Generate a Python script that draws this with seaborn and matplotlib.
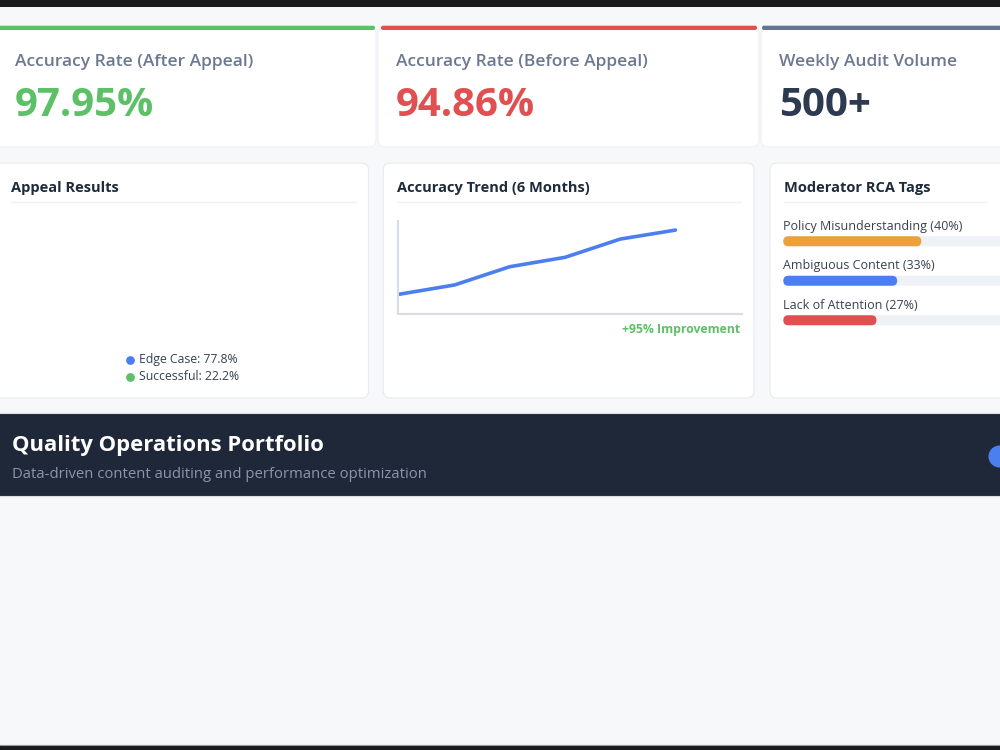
import numpy as np
import pandas as pd
import matplotlib
matplotlib.use("Agg")
import matplotlib.pyplot as plt
from matplotlib.patches import FancyBboxPatch, Circle
import seaborn as sns

# KPI cards
kpi_titles = ["Accuracy Rate (After Appeal)", "Accuracy Rate (Before Appeal)", "Weekly Audit Volume"]
kpi_values = ["97.95%", "94.86%", "500+"]
kpi_colors = ["#5cc166", "#e05050", "#66748d"]
kpi_value_colors = ["#5cc166", "#e05050", "#2e3a4f"]

# appeal results
appeal_labels = ["Edge Case", "Successful"]
appeal_pct = [77.8, 22.2]
appeal_colors = ["#4b7ff0", "#5cc166"]

# accuracy trend (6 months)
months = ["M1", "M2", "M3", "M4", "M5", "M6"]
trend = [21, 31, 50.7, 60.8, 80.5, 90.2]

# RCA tags
rca_labels = ["Policy Misunderstanding", "Ambiguous Content", "Lack of Attention"]
rca_pct = [40, 33, 27]
rca_colors = ["#eba03c", "#4b7ff0", "#e05050"]

sns.set_theme(style="white")
plt.rcParams['font.family'] = ['Open Sans', 'DejaVu Sans']

W, H = 1000, 750
fig = plt.figure(figsize=(10, 7.5), dpi=100)
fig.patch.set_facecolor("#f7f8fa")

def px_axes(x0, y0, x1, y1):
    return fig.add_axes([x0 / W, 1 - y1 / H, (x1 - x0) / W, (y1 - y0) / H])

bg = px_axes(0, 0, W, H)
bg.set_xlim(0, W)
bg.set_ylim(H, 0)
bg.axis("off")
bg.set_facecolor("none")

def card(x0, y0, x1, y1, r=6, fc="white", ec="#e7eaef", lw=0.8, z=1):
    bg.add_patch(FancyBboxPatch((x0, y0), x1 - x0, y1 - y0,
                                boxstyle=f"round,pad=0,rounding_size={r}",
                                fc=fc, ec=ec, lw=lw, zorder=z))

# window chrome strips
bg.add_patch(plt.Rectangle((0, 0), W, 7, fc="#1b1b1b", lw=0, zorder=5))
bg.add_patch(plt.Rectangle((0, 745), W, 5, fc="#1b1b1b", lw=0, zorder=5))
bg.plot([0, W], [745, 745], color="#9a9a9a", lw=0.8, zorder=6)

# KPI row
kpi_x = [(-8, 376), (378, 759), (761, 1010)]
bar_x = [(-5, 375), (381, 757), (762, 1010)]
for (x0, x1), (b0, b1), t, v, c, vc in zip(kpi_x, bar_x, kpi_titles, kpi_values,
                                            kpi_colors, kpi_value_colors):
    card(x0, 27, x1, 147, r=7, ec="#eef0f4")
    card(b0, 25.7, b1, 30, r=2, fc=c, ec="none", lw=0, z=2)
    tx = 15 if x0 < 0 else x0 + 18
    bg.text(tx, 62, t, fontsize=12.5, fontweight="semibold", color="#6b7890",
            va="center", ha="left")
    bg.text(tx, 106, v, fontsize=29, fontweight="bold", color=vc, va="center", ha="left")

# second row cards
row2 = [(-8, 368.5), (383.3, 754), (770, 1010)]
titles2 = ["Appeal Results", "Accuracy Trend (6 Months)", "Moderator RCA Tags"]
for (x0, x1), t in zip(row2, titles2):
    card(x0, 163, x1, 398, r=7)
    tx = 11 if x0 < 0 else x0 + 14
    bg.text(tx, 188, t, fontsize=10.5, fontweight="bold", color="#1f2a3a", va="center", ha="left")
    bg.plot([tx, min(x1, 1000) - 13], [201.5, 201.5], color="#f0f2f5", lw=1, zorder=3)

# appeal legend
for i, (lab, p, c) in enumerate(zip(appeal_labels, appeal_pct, appeal_colors)):
    y = 359.5 + i * 17
    bg.scatter([130], [y], s=40, color=c, zorder=4, linewidths=0)
    bg.text(139, y, f"{lab}: {p}%", fontsize=8.8, color="#374151", va="center", ha="left")

# accuracy trend line
ax = px_axes(397.7, 221, 741.7, 313.7)
ax.set_facecolor("none")
df = pd.DataFrame({"pos": np.arange(len(months)), "acc": trend})
sns.lineplot(data=df, x="pos", y="acc", color="#4b7ff0", lw=2.6, ax=ax)
ax.set_xlim(-0.03, 6.2)
ax.set_ylim(0, 100)
ax.set_xticks([])
ax.set_yticks([])
ax.set_xlabel("")
ax.set_ylabel("")
for s in ["top", "right"]:
    ax.spines[s].set_visible(False)
for s in ["left", "bottom"]:
    ax.spines[s].set_color("#d8dde6")
    ax.spines[s].set_linewidth(1.5)
bg.text(740, 329, "+95% Improvement", fontsize=8.8, fontweight="bold",
        color="#5cc166", va="center", ha="right")

# RCA progress bars
rx = px_axes(783.3, 221.5, 783.3 + 345, 340)
rx.set_facecolor("none")
rdf = pd.DataFrame({"tag": rca_labels, "pct": rca_pct, "full": [100] * 3})
sns.barplot(data=rdf, x="full", y="tag", color="#eef1f6", width=0.253,
            saturation=1, ax=rx)
sns.barplot(data=rdf, x="pct", y="tag", hue="tag", palette=rca_colors,
            width=0.253, saturation=1, legend=False, ax=rx)
rx.set_xlim(0, 100)
rx.set_ylim(2.5, -0.5)
bars = list(rx.patches)
for p in bars:
    x, y, w, h = p.get_x(), p.get_y(), p.get_width(), p.get_height()
    fc = p.get_facecolor()
    p.remove()
    rx.add_patch(FancyBboxPatch((x, y), w, h,
                                boxstyle=f"round,pad=0,rounding_size={5 / 3.45}",
                                mutation_aspect=3.45 / 39.5, fc=fc, lw=0))
for i, (lab, p) in enumerate(zip(rca_labels, rca_pct)):
    rx.text(0, i - 0.38, f"{lab} ({p}%)", fontsize=9, color="#374151",
            va="center", ha="left")
rx.axis("off")

# banner
card(-8, 413.5, 1010, 496.5, r=6, fc="#1f2839", ec="#d9dde3", lw=0.8)
bg.text(12, 446, "Quality Operations Portfolio", fontsize=15.8, fontweight="bold",
        color="white", va="center", ha="left")
bg.text(12, 475, "Data-driven content auditing and performance optimization",
        fontsize=10.7, color="#8d96a8", va="center", ha="left")
bg.add_patch(Circle((999.5, 456.5), 11, fc="#4b7ff0", lw=0, zorder=3))

fig.savefig("out.png", dpi=100, facecolor=fig.get_facecolor())
